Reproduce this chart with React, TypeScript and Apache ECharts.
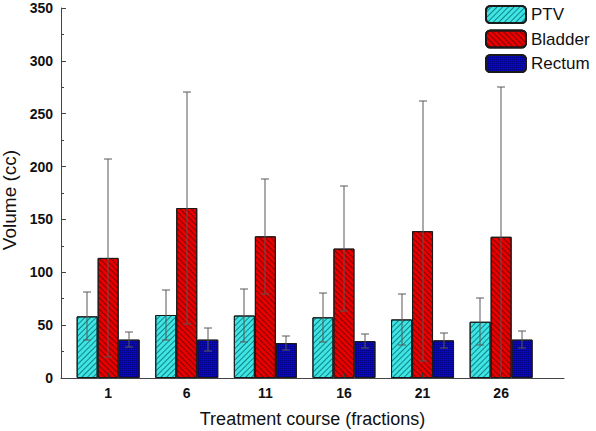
import React, { useEffect, useRef } from "react";
import * as echarts from "echarts";

const fractions = [1, 6, 11, 16, 21, 26];
const ptvMean = [58.3, 59.6, 59.1, 57.4, 55.4, 53.2];
const ptvSd = [22.7, 23.5, 25.0, 23.3, 24.1, 22.2];
const bladderMean = [113.6, 160.8, 134.0, 122.4, 138.9, 133.6];
const bladderSd = [93.8, 109.6, 54.2, 58.9, 123.0, 141.6];
const rectumMean = [36.3, 36.3, 33.1, 35.0, 35.6, 36.3];
const rectumSd = [7.0, 10.8, 6.3, 6.9, 7.2, 8.0];
const yTicks = { min: 0, max: 350, interval: 50 };

const FONT = "'Liberation Sans', Arial, sans-serif";
const BAR_W = 21;

function errSeries(name: string, mean: number[], sd: number[], offset: number) {
  return {
    type: "custom",
    name: name + "-err",
    z: 5,
    silent: true,
    clip: false,
    legendHoverLink: false,
    data: fractions.map((f, i) => [f, mean[i], sd[i]]),
    renderItem: (params: any, api: any) => {
      const x = api.value(0);
      const m = api.value(1);
      const s = api.value(2);
      const top = api.coord([x, m + s]);
      const bot = api.coord([x, Math.max(0, m - s)]);
      const cx = Math.round(top[0] + offset);
      const ty = Math.round(top[1]);
      const by = Math.round(bot[1]);
      const fill = { fill: "#585858" };
      const children: any[] = [
        { type: "rect", shape: { x: cx - 0.5, y: ty, width: 1, height: by - ty }, style: fill },
        { type: "rect", shape: { x: cx - 4, y: ty - 0.5, width: 8, height: 1 }, style: fill },
      ];
      if (m - s > 0) {
        children.push({ type: "rect", shape: { x: cx - 4, y: by - 0.5, width: 8, height: 1 }, style: fill });
      }
      return { type: "group", children };
    },
  };
}

export default function App() {
  const ref = useRef<HTMLDivElement>(null);
  useEffect(() => {
    if (!ref.current) return;
    const chart = echarts.init(ref.current, null, { renderer: "svg" });
    const barStyle = (color: string, decal: any) => ({
      color,
      borderColor: "#1a1a1a",
      borderWidth: 1,
      decal,
    });
    chart.setOption({
      animation: false,
      backgroundColor: "#ffffff",
      textStyle: { fontFamily: FONT },
      grid: { left: 61, right: 32, top: 8, bottom: 53, containLabel: false, outerBoundsMode: "none" },
      legend: {
        orient: "vertical",
        left: 480,
        top: 0,
        itemWidth: 40,
        itemHeight: 17,
        itemGap: 5.5,
        data: ["PTV", "Bladder", "Rectum"],
        textStyle: { fontSize: 17, color: "#111", fontFamily: FONT },
      },
      xAxis: {
        type: "value",
        min: -2,
        max: 30,
        z: 6,
        name: "Treatment course (fractions)",
        nameLocation: "middle",
        nameGap: 32,
        nameTextStyle: { fontSize: 18, color: "#111", fontFamily: FONT },
        axisLine: { onZero: false, lineStyle: { color: "#444", width: 1 } },
        axisTick: { inside: true, length: 5, customValues: fractions, lineStyle: { color: "#333" } },
        axisLabel: {
          customValues: fractions,
          fontSize: 14,
          fontWeight: "bold",
          color: "#111",
          margin: 8,
          fontFamily: FONT,
        },
        splitLine: { show: false },
      },
      yAxis: {
        type: "value",
        min: yTicks.min,
        max: yTicks.max,
        interval: yTicks.interval,
        name: "Volume (cc)",
        nameLocation: "middle",
        nameGap: 40,
        nameTextStyle: { fontSize: 19, color: "#111", fontFamily: FONT, padding: [0, 14, 0, 0] },
        axisLine: { show: true, onZero: false, lineStyle: { color: "#444", width: 1 } },
        axisTick: { show: true, inside: true, length: 5, lineStyle: { color: "#444" } },
        minorTick: { show: true, splitNumber: 2, length: 3, lineStyle: { color: "#444" } },
        axisLabel: { fontSize: 14, fontWeight: "bold", color: "#111", margin: 8, fontFamily: FONT },
        splitLine: { show: false },
      },
      series: [
        {
          type: "bar",
          name: "PTV",
          barWidth: BAR_W,
          barGap: "0%",
          data: fractions.map((f, i) => [f, ptvMean[i]]),
          itemStyle: barStyle("#40e4e4", {
            symbol: "rect",
            symbolSize: 1,
            dashArrayX: [1, 0],
            dashArrayY: [1, 3],
            rotation: -Math.PI / 4,
            color: "rgba(0,110,110,0.8)",
          }),
        },
        {
          type: "bar",
          name: "Bladder",
          barWidth: BAR_W,
          barGap: "0%",
          data: fractions.map((f, i) => [f, bladderMean[i]]),
          itemStyle: barStyle("#e60000", {
            symbol: "rect",
            symbolSize: 1,
            dashArrayX: [1, 0],
            dashArrayY: [1, 3],
            rotation: Math.PI / 4,
            color: "rgba(110,0,0,0.8)",
          }),
        },
        {
          type: "bar",
          name: "Rectum",
          barWidth: BAR_W,
          barGap: "0%",
          data: fractions.map((f, i) => [f, rectumMean[i]]),
          itemStyle: barStyle("#0808b8", {
            symbol: "rect",
            symbolSize: 1,
            dashArrayX: [1, 1],
            dashArrayY: [1, 1],
            rotation: 0,
            color: "rgba(0,0,90,0.6)",
          }),
        },
        errSeries("PTV", ptvMean, ptvSd, -BAR_W),
        errSeries("Bladder", bladderMean, bladderSd, 0),
        errSeries("Rectum", rectumMean, rectumSd, BAR_W),
      ],
    });
    return () => chart.dispose();
  }, []);
  return (
    <div
      ref={ref}
      style={{ position: "fixed", left: 0, top: 0, width: 596, height: 431 }}
    />
  );
}
